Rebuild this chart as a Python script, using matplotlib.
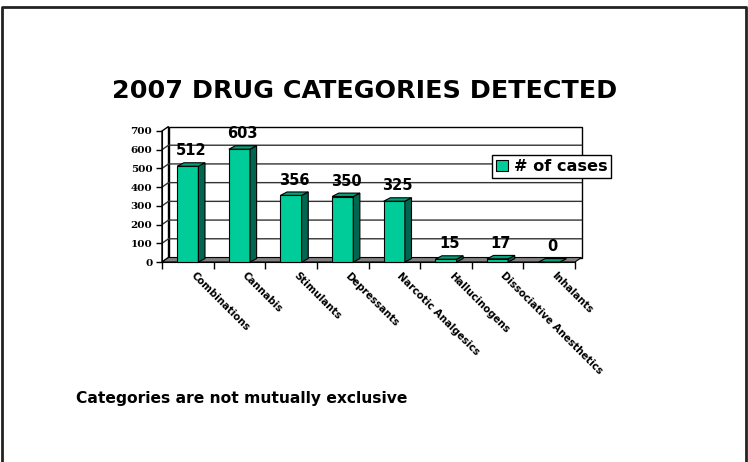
import matplotlib
matplotlib.use('Agg')
import matplotlib.pyplot as plt
from matplotlib.patches import Polygon, Rectangle, Patch
from matplotlib.lines import Line2D
from matplotlib.transforms import ScaledTranslation
import numpy as np

# ---- data ----
categories = ['Combinations', 'Cannabis', 'Stimulants', 'Depressants',
              'Narcotic Analgesics', 'Hallucinogens', 'Dissociative Anesthetics',
              'Inhalants']
cases = [512, 603, 356, 350, 325, 15, 17, 0]
y_ticks = [0, 100, 200, 300, 400, 500, 600, 700]
series_name = '# of cases'
title = '2007 DRUG CATEGORIES DETECTED'
note = 'Categories are not mutually exclusive'

# ---- style ----
plt.rcParams['font.family'] = ['DejaVu Sans']
FRONT = '#00CC99'
SIDE = '#006650'
TOP = '#00A37A'
FLOOR = '#808080'

W, H = 748, 462
fig = plt.figure(figsize=(W / 100, H / 100), dpi=100)
ax = fig.add_axes([162 / W, 200 / H, 413 / W, 131 / H])
n = len(categories)
ymax = y_ticks[-1]
ax.set_xlim(0, n)
ax.set_ylim(0, ymax)
ax.patch.set_visible(False)

# depth offsets in data units (wall / bar)
DX = 6.5 / 413 * n
DY = 4.5 / 131 * ymax
BDX = 6.6 / 413 * n
BDY = 3.4 / 131 * ymax

# back wall, left wall, floor
ax.add_patch(Rectangle((DX, DY), n, ymax, fc='white', ec='black', lw=1,
                       zorder=1, clip_on=False))
ax.add_patch(Polygon([(0, 0), (DX, DY), (DX, ymax + DY), (0, ymax)],
                     closed=True, fc='white', ec='black', lw=1, zorder=1,
                     clip_on=False))
for v in y_ticks[1:-1]:
    ax.plot([0, DX, n + DX], [v, v + DY, v + DY], color='#333333', lw=1,
            zorder=1.5, clip_on=False)
ax.add_patch(Polygon([(0, 0), (n, 0), (n + DX, DY), (DX, DY)], closed=True,
                     fc=FLOOR, ec='black', lw=0.8, zorder=2, clip_on=False))

# bars
x = np.arange(n) + 0.5
bars = ax.bar(x, cases, width=0.41, color=FRONT, edgecolor='black', lw=0.8,
              zorder=5, clip_on=False)
for b, v in zip(bars, cases):
    x0, w, h = b.get_x(), b.get_width(), b.get_height()
    x1 = x0 + w
    ax.add_patch(Polygon([(x1, 0), (x1 + BDX, BDY), (x1 + BDX, h + BDY), (x1, h)],
                         closed=True, fc=SIDE, ec='black', lw=0.8, zorder=5,
                         clip_on=False))
    ax.add_patch(Polygon([(x0, h), (x1, h), (x1 + BDX, h + BDY), (x0 + BDX, h + BDY)],
                         closed=True, fc=TOP, ec='black', lw=0.8, zorder=5,
                         clip_on=False))
    ax.annotate(str(v), (x0 + w / 2 + BDX / 2, h + BDY), xytext=(0, 3.2),
                textcoords='offset points', ha='center', va='bottom',
                fontsize=10.5, fontweight='bold', zorder=6)

# axes / ticks
for s in ['top', 'right']:
    ax.spines[s].set_visible(False)
ax.spines['left'].set_color('black')
ax.spines['bottom'].set_color('black')
ax.spines['left'].set_zorder(3)
ax.spines['bottom'].set_zorder(3)
ax.set_yticks(y_ticks)
ax.set_yticklabels([str(t) for t in y_ticks], fontfamily='DejaVu Serif',
                   fontweight='bold', fontsize=7.5)
ax.tick_params(axis='y', direction='out', length=4, width=1, pad=3)
ax.set_xticks(x)
ax.set_xticklabels(categories, rotation=-45, ha='left', rotation_mode='anchor',
                   fontsize=7.3, fontweight='bold')
ax.tick_params(axis='x', which='major', length=0, pad=7)
ax.set_xticks(np.arange(n + 1), minor=True)
ax.tick_params(axis='x', which='minor', direction='out', length=5, width=1)
shift = ScaledTranslation(8 / 100, 1 / 100, fig.dpi_scale_trans)
for lab in ax.get_xticklabels():
    lab.set_transform(lab.get_transform() + shift)

# legend
leg = ax.legend([Patch(fc=FRONT, ec='black', lw=0.8)], [series_name],
                loc='upper left', bbox_to_anchor=(492 / W, 1 - 155 / H),
                bbox_transform=fig.transFigure, fancybox=False, framealpha=1,
                edgecolor='black', borderpad=0.25, handlelength=0.75,
                handleheight=0.75, handletextpad=0.35, borderaxespad=0,
                prop={'weight': 'bold', 'size': 11.6})
leg.get_frame().set_linewidth(1)

# titles
fig.text(365 / W, 1 - 91 / H, title, ha='center', va='center', fontsize=18.3,
         fontweight='bold')
fig.text(76 / W, 1 - 398 / H, note, ha='left', va='center', fontsize=11.2,
         fontweight='bold')

# frame around the chart
fig.add_artist(Line2D([2 / W, 2 / W, 746 / W, 746 / W],
                      [0, 1 - 6.5 / H, 1 - 6.5 / H, 0],
                      transform=fig.transFigure, color='#222222', lw=2))

fig.savefig('out.png', dpi=100)
